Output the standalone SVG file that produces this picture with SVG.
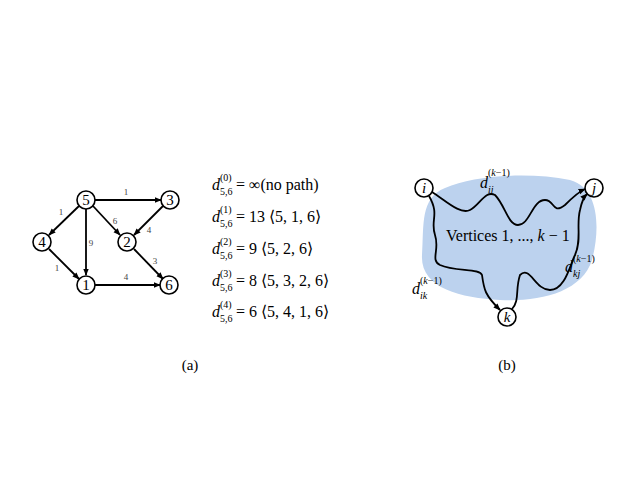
<svg xmlns="http://www.w3.org/2000/svg" width="638" height="478" viewBox="0 0 638 478">
<style>
.n circle{fill:#fff;stroke:#000;stroke-width:1.6}
text{font-family:"Liberation Serif","Times New Roman",serif}
.n text,.t{font-size:15px;text-anchor:middle}
.e{stroke:#000;stroke-width:1.8;fill:none;marker-end:url(#a)}
.w{font-family:"DejaVu Sans",sans-serif;font-size:9px;fill:#444;text-anchor:middle}
.m{font-size:16px}
.s{font-size:10px}
.i{font-style:italic}
</style>
<defs><marker id="a" viewBox="0 0 10 10" refX="9" refY="5" markerWidth="4" markerHeight="4" orient="auto"><path d="M0,1 L10,5 L0,9 z"/></marker></defs>
<rect width="638" height="478" fill="#fff"/>
<path d="M445,188 C475,175 530,172 570,180 C600,188 600,230 592,260 C582,292 540,302 500,300 C460,298 420,288 422,255 C424,225 420,198 445,188 z" fill="#bcd2ee"/>
<g id="connectors">
<path class="e" d="M95,200 H161"/>
<path class="e" d="M79,206 L49,235"/>
<path class="e" d="M86,209 V275"/>
<path class="e" d="M93,206 L120,235"/>
<path class="e" d="M163,206 L134,235"/>
<path class="e" d="M49,249 L79,279"/>
<path class="e" d="M95,285 H160"/>
<path class="e" d="M134,249 L163,279"/>
<path class="e" d="M432,192 C445,200 460,215 470,210 C480,205 485,190 495,195 C505,205 508,225 518,225 C530,225 532,200 545,200 C555,200 552,215 565,205 C572,198 578,192 585,189"/>
<path class="e" d="M429,196 C440,215 430,220 435,235 C440,250 430,260 440,265 C455,272 480,268 482,275 C484,290 485,295 500,310"/>
<path class="e" d="M512,309 C520,300 515,290 520,275 C530,265 535,290 550,290 C565,290 570,265 575,255 C582,240 576,225 580,210 C582,200 584,197 587,194"/>
<g class="w"><text x="126" y="195">1</text><text x="61" y="215">1</text><text x="91" y="246">9</text><text x="115" y="224">6</text><text x="149" y="233">4</text><text x="57" y="271">1</text><text x="155" y="264">3</text><text x="126" y="280">4</text></g>
</g>
<g id="n5" class="n"><circle cx="86" cy="200" r="9"/><text x="86" y="205">5</text></g>
<g id="n3" class="n"><circle cx="170" cy="200" r="9"/><text x="170" y="205">3</text></g>
<g id="n4" class="n"><circle cx="42" cy="242" r="9"/><text x="42" y="247">4</text></g>
<g id="n2" class="n"><circle cx="127" cy="242" r="9"/><text x="127" y="247">2</text></g>
<g id="n1" class="n"><circle cx="86" cy="285" r="9"/><text x="86" y="290">1</text></g>
<g id="n6" class="n"><circle cx="169" cy="285" r="9"/><text x="169" y="290">6</text></g>
<g id="ni" class="n"><circle cx="424" cy="188" r="9"/><text x="424" y="193" class="i">i</text></g>
<g id="nj" class="n"><circle cx="594" cy="188" r="9"/><text x="594" y="193" class="i">j</text></g>
<g id="nk" class="n"><circle cx="507" cy="317" r="9"/><text x="507" y="322" class="i">k</text></g>
<g class="m">
<text x="212" y="190" class="i">d</text><text x="220" y="195" class="s">5,6</text><text x="220" y="181" class="s">(0)</text><text x="236" y="190">= ∞(no path)</text>
<text x="212" y="222" class="i">d</text><text x="220" y="227" class="s">5,6</text><text x="220" y="213" class="s">(1)</text><text x="236" y="222">= 13 ⟨5, 1, 6⟩</text>
<text x="212" y="254" class="i">d</text><text x="220" y="259" class="s">5,6</text><text x="220" y="245" class="s">(2)</text><text x="236" y="254">= 9   ⟨5, 2, 6⟩</text>
<text x="212" y="286" class="i">d</text><text x="220" y="291" class="s">5,6</text><text x="220" y="277" class="s">(3)</text><text x="236" y="286">= 8   ⟨5, 3, 2, 6⟩</text>
<text x="212" y="317" class="i">d</text><text x="220" y="322" class="s">5,6</text><text x="220" y="308" class="s">(4)</text><text x="236" y="317">= 6   ⟨5, 4, 1, 6⟩</text>
<text x="446" y="241">Vertices 1, ..., <tspan class="i">k</tspan> − 1</text>
<text x="480" y="188" class="i">d</text><text x="488" y="193" class="s i">ij</text><text x="488" y="176" class="s">(<tspan class="i">k</tspan>−1)</text>
<text x="412" y="294" class="i">d</text><text x="420" y="299" class="s i">ik</text><text x="420" y="284" class="s">(<tspan class="i">k</tspan>−1)</text>
<text x="565" y="272" class="i">d</text><text x="573" y="277" class="s i">kj</text><text x="573" y="262" class="s">(<tspan class="i">k</tspan>−1)</text>
</g>
<text class="t" x="190" y="370">(a)</text>
<text class="t" x="507" y="370">(b)</text>
</svg>
